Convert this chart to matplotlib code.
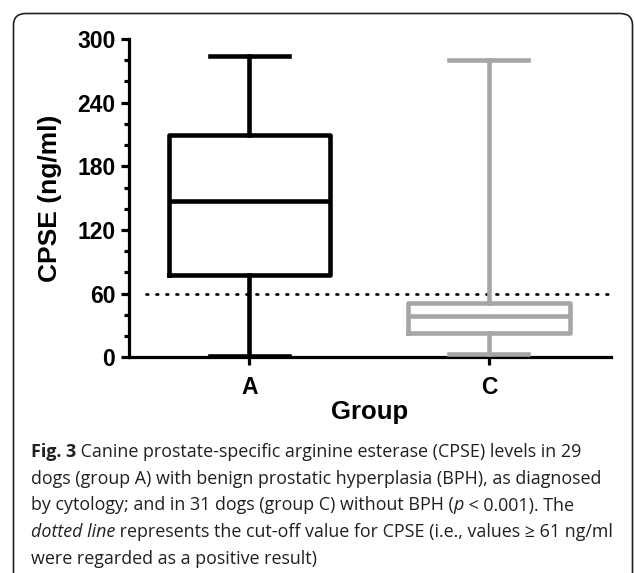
import matplotlib
matplotlib.use("Agg")
import matplotlib.pyplot as plt
from matplotlib.patches import FancyBboxPatch

groups = ["A", "C"]
whislo = [1, 3]
q1 = [78, 23]
med = [147, 39]
q3 = [209.5, 51.5]
whishi = [284, 280]
colors = ["#000000", "#a6a6a6"]
cutoff = 60
yticks = [0, 60, 120, 180, 240, 300]

W, H = 635, 573
fig = plt.figure(figsize=(W/100, H/100), dpi=100)
ax_l, ax_r, ax_t, ax_b = 128.5, 611, 39, 357.3
ax = fig.add_axes([ax_l/W, 1-ax_b/H, (ax_r-ax_l)/W, (ax_b-ax_t)/H])

for i, g in enumerate(groups):
    st = [dict(label=g, whislo=whislo[i], q1=q1[i], med=med[i], q3=q3[i], whishi=whishi[i], fliers=[])]
    c = colors[i]
    ax.bxp(st, positions=[i+1], widths=0.674, showfliers=False,
           boxprops=dict(color=c, linewidth=3.3),
           medianprops=dict(color=c, linewidth=3.3),
           whiskerprops=dict(color=c, linewidth=3.3),
           capprops=dict(color=c, linewidth=3.3),
           capwidths=0.33, manage_ticks=False, zorder=3)

ax.plot([0.036, 1.0], [cutoff, cutoff], transform=ax.get_yaxis_transform(),
        linestyle=(0, (0.6, 3.0)), dash_capstyle='round', color='black', linewidth=2.0, zorder=2)

ax.set_xlim(0.496, 2.51)
ax.set_ylim(0, 300)
ax.set_yticks(yticks)
ax.set_yticks(range(0, 301, 20), minor=True)
ax.set_xticks([1, 2])
ax.set_xticklabels(groups)
for s in ["top", "right"]:
    ax.spines[s].set_visible(False)
for s in ["left", "bottom"]:
    ax.spines[s].set_linewidth(2.3)
ax.tick_params(axis='y', which='major', length=5.5, width=2.3, pad=4)
ax.tick_params(axis='y', which='minor', length=3.5, width=2.3)
ax.tick_params(axis='x', which='major', length=5.5, width=2.3, pad=8)
for lab in ax.get_yticklabels() + ax.get_xticklabels():
    lab.set_fontfamily("Liberation Sans")
    lab.set_fontweight("bold")
    lab.set_fontsize(16.5)
ax.set_ylabel("CPSE (ng/ml)", fontfamily="Liberation Sans", fontweight="bold", fontsize=19)
ax.yaxis.set_label_coords((62-ax_l)/(ax_r-ax_l), 0.5)
ax.set_xlabel("Group", fontfamily="Liberation Sans", fontweight="bold", fontsize=18.5)
ax.xaxis.set_label_coords(((250+489)/2-ax_l)/(ax_r-ax_l), -(400-ax_b)/(ax_b-ax_t))

# border
box = FancyBboxPatch((13.5/W, -0.05), (632.5-13.5)/W, (573-13.5)/H + 0.05,
                     boxstyle="round,pad=0,rounding_size=0.02",
                     transform=fig.transFigure, fill=False, edgecolor="#222222",
                     linewidth=1.2, clip_on=False)
fig.patches.append(box)

# caption
cap_font = "Open Sans"
cap_size = 12.9
lines = [
    [("Fig. 3", "bold", "normal"), (" Canine prostate-specific arginine esterase (CPSE) levels in 29", "normal", "normal")],
    [("dogs (group A) with benign prostatic hyperplasia (BPH), as diagnosed", "normal", "normal")],
    [("by cytology; and in 31 dogs (group C) without BPH (", "normal", "normal"), ("p", "normal", "italic"),
     (" < 0.001). The", "normal", "normal")],
    [("dotted line", "normal", "italic"), (" represents the cut-off value for CPSE (i.e., values \u2265 61 ng/ml", "normal", "normal")],
    [("were regarded as a positive result)", "normal", "normal")],
]
ys = [457, 484, 510.5, 537, 564]
fig.canvas.draw()
r = fig.canvas.get_renderer()
for line, yb in zip(lines, ys):
    x = 31
    for txt, wt, st in line:
        t = fig.text(x/W, 1-yb/H, txt, fontfamily=cap_font, fontsize=cap_size,
                     fontweight=wt, fontstyle=st, va='baseline', ha='left', color='#231f20')
        bb = t.get_window_extent(renderer=r)
        x += bb.width

fig.savefig("out.png", dpi=100)
